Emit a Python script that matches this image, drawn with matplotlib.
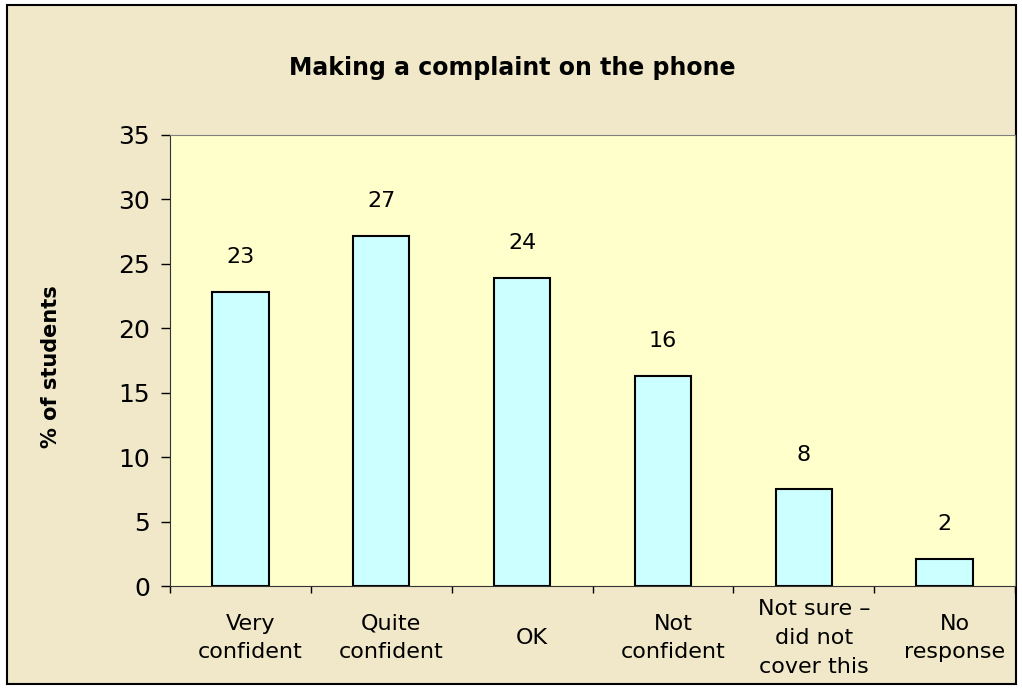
"""
Bar chart: making a complaint on the phone.
"""

import numpy as np
import matplotlib.pyplot as plt
from matplotlib.patches import Rectangle
from matplotlib.transforms import ScaledTranslation

categories = ["Very\nconfident", "Quite\nconfident", "OK", "Not\nconfident",
              "Not sure \u2013\ndid not\ncover this", "No\nresponse"]
percents = [22.8, 27.2, 23.9, 16.3, 7.5, 2.1]
labels = ["23", "27", "24", "16", "8", "2"]
yticks = [0, 5, 10, 15, 20, 25, 30, 35]

BEIGE = "#F0E8C8"
PLOT_BG = "#FFFFCC"
BAR = "#CCFFFF"

plt.rcParams["font.family"] = ["DejaVu Sans"]


def main():
    fig = plt.figure(figsize=(10.22, 6.88), dpi=100, facecolor="white")
    fig.patches.append(Rectangle((7 / 1022, 4 / 688), 1009 / 1022, 679 / 688,
                                 transform=fig.transFigure, facecolor=BEIGE,
                                 edgecolor="black", linewidth=1.5, zorder=-10))

    ax = fig.add_axes([170 / 1022, 102 / 688, 845 / 1022, 451 / 688])
    ax.set_facecolor(PLOT_BG)

    n = len(percents)
    ind = np.arange(n)
    ax.bar(ind, percents, 0.4, color=BAR, edgecolor="black", linewidth=1.5)

    for i, (v, lab) in enumerate(zip(percents, labels)):
        ax.annotate(lab, (i, v), xytext=(0, 25), textcoords="offset points",
                    ha="center", va="center", fontsize=16)

    ax.set_xlim(-0.5, n - 0.5)
    ax.set_ylim(0, 35)
    ax.set_yticks(yticks)
    ax.tick_params(axis="y", labelsize=18, length=6.5, width=1,
                   direction="out", pad=8)

    ax.set_xticks(np.arange(n + 1) - 0.5)
    ax.set_xticklabels([])
    ax.tick_params(axis="x", length=5, width=1, direction="out")
    shift = ScaledTranslation(10 / 100, 0, fig.dpi_scale_trans)
    for i, cat in enumerate(categories):
        ax.text(i, -52 / 451, cat,
                transform=ax.get_xaxis_transform() + shift,
                ha="center", va="center", fontsize=16, linespacing=1.55,
                clip_on=False)

    for side in ("top", "right"):
        ax.spines[side].set_color("#808080")
    for side in ("left", "bottom"):
        ax.spines[side].set_color("#333333")

    fig.text(51 / 1022, 1 - 367 / 688, "% of students", rotation=90,
             ha="center", va="center", fontsize=15, fontweight="bold")
    fig.text(512 / 1022, 1 - 68 / 688, "Making a complaint on the phone",
             ha="center", va="center", fontsize=17, fontweight="bold")

    fig.savefig("out.png", dpi=100, facecolor="white")


if __name__ == "__main__":
    main()
